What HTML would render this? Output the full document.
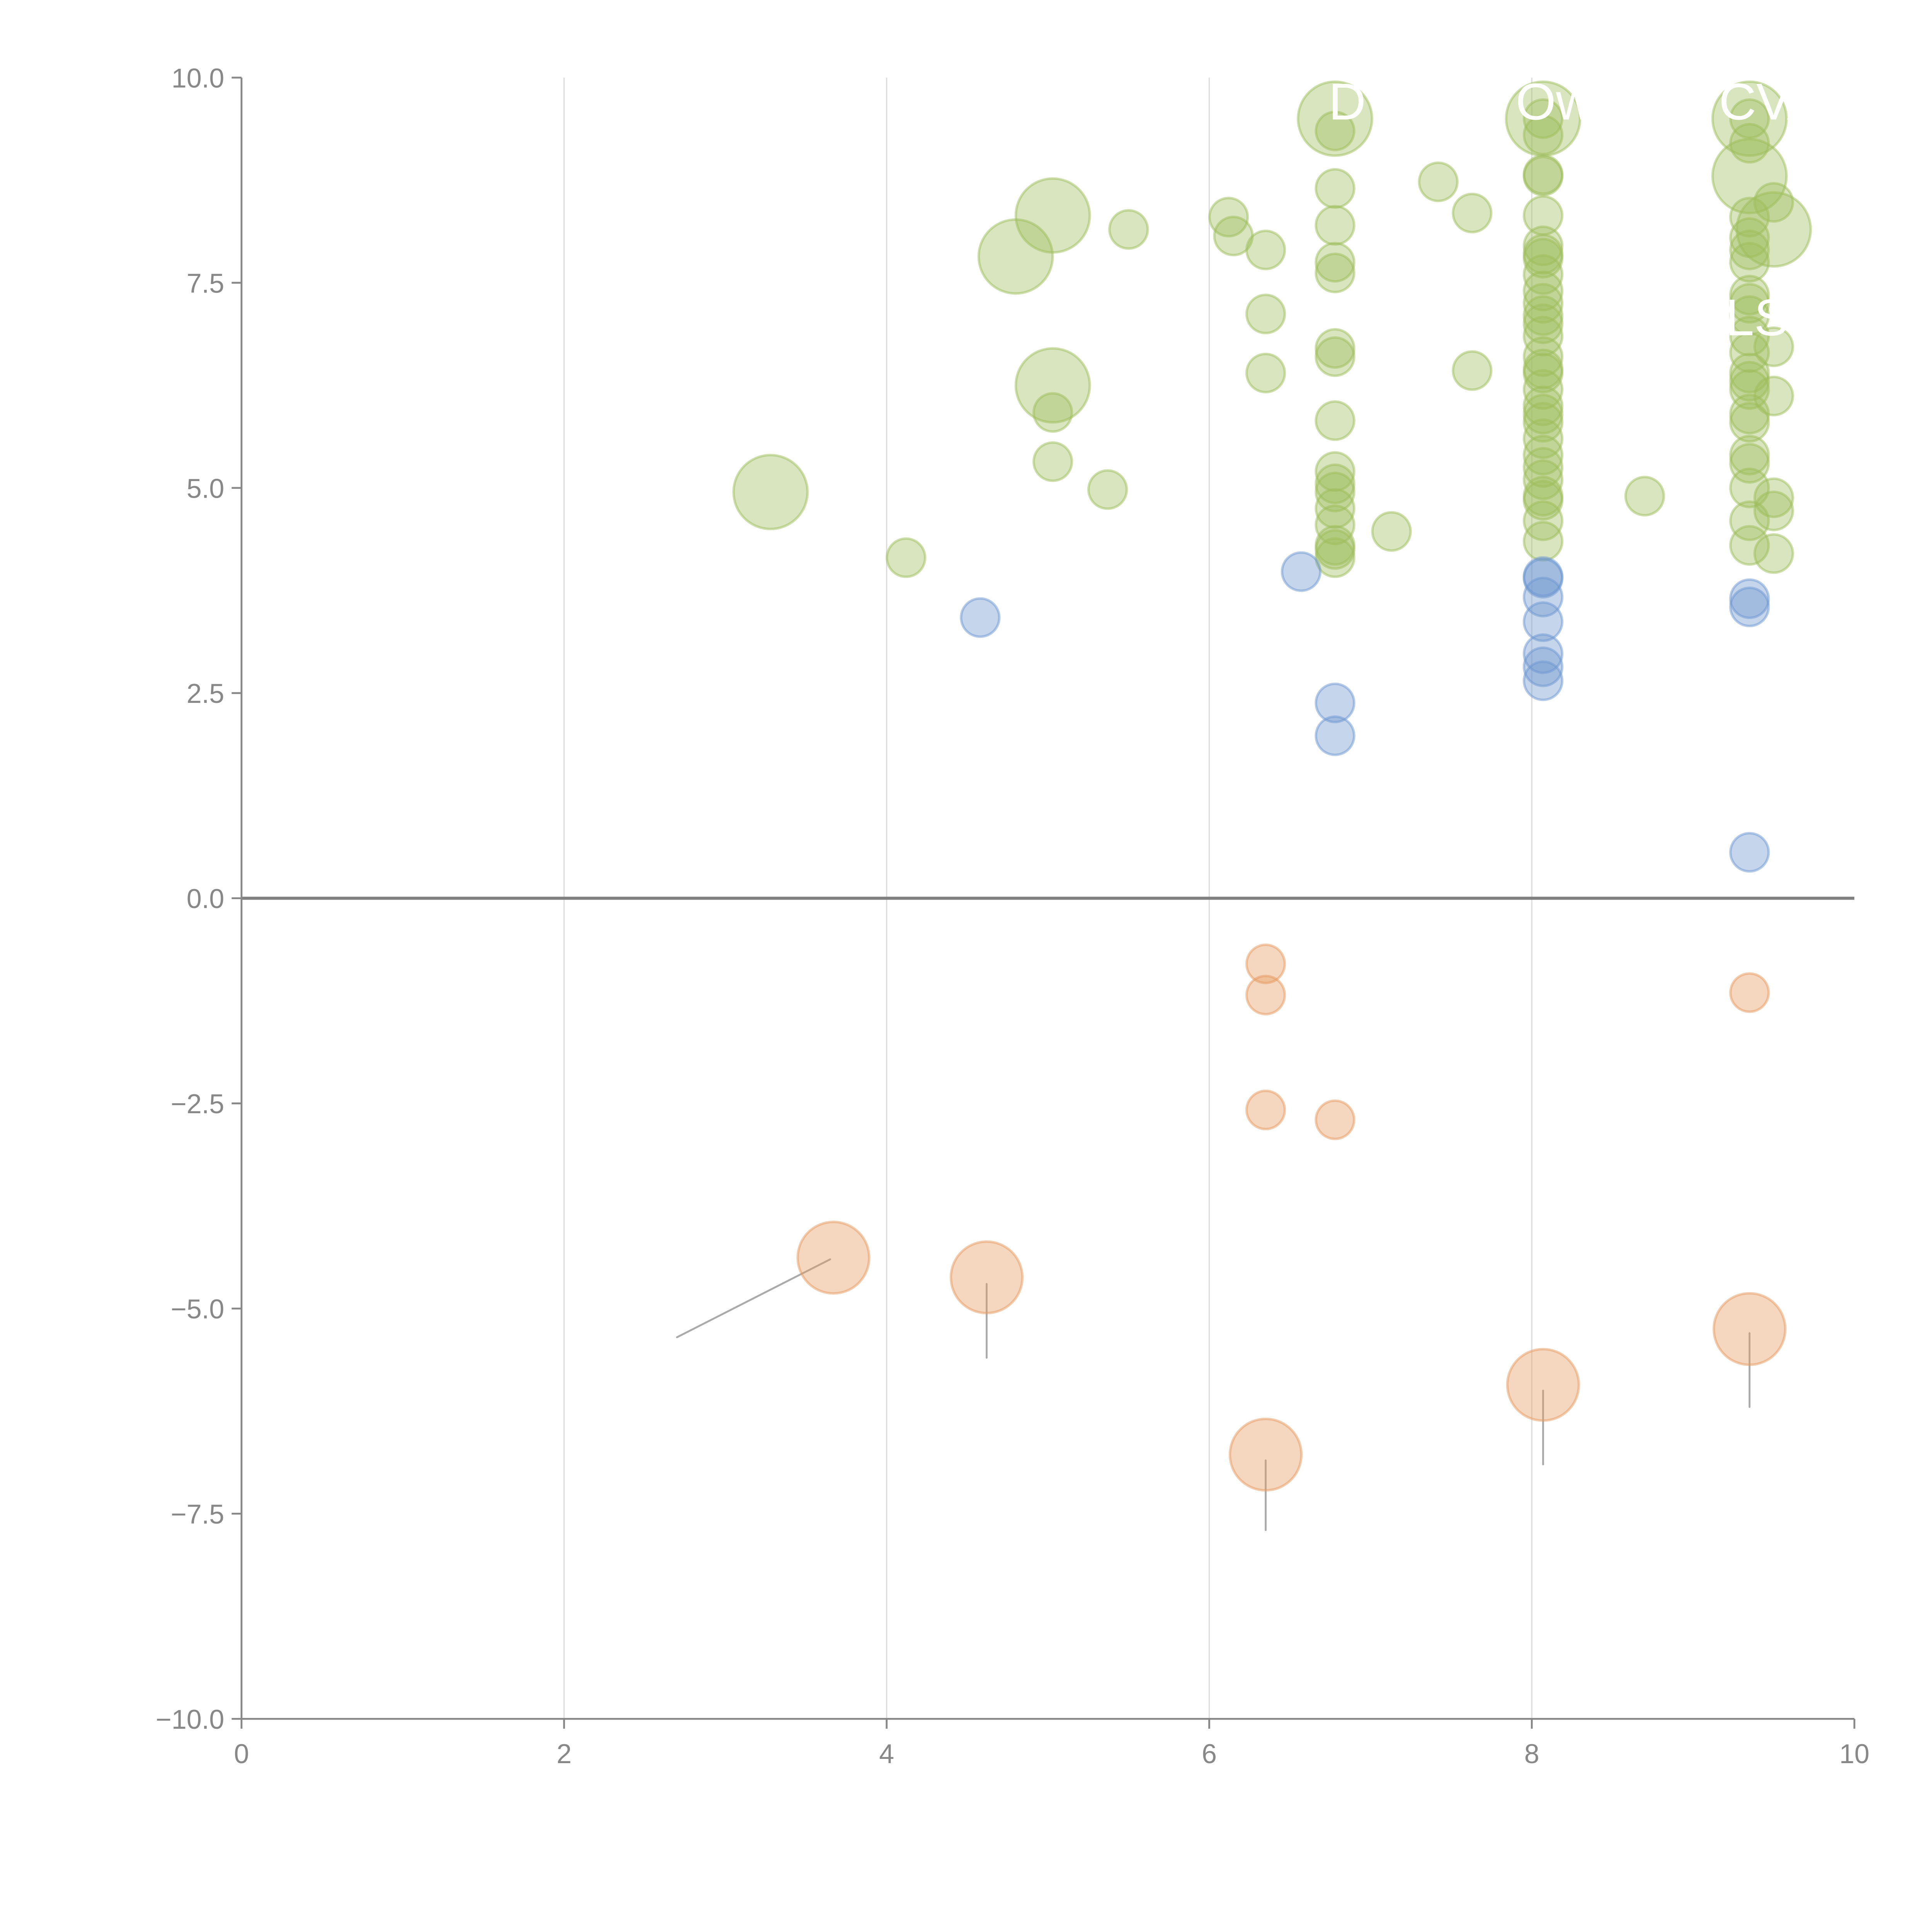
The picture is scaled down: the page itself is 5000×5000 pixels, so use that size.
<!DOCTYPE html>
<html><head><meta charset="utf-8">
<style>html,body{margin:0;padding:0;background:#fff;}svg{display:block;}</style>
</head><body>
<svg id="chart" width="5000" height="5000" viewBox="0 0 1568 1568" xmlns="http://www.w3.org/2000/svg" font-family="Liberation Sans, sans-serif">
<defs><clipPath id="plotclip"><rect x="196" y="40" width="1258" height="1360"/></clipPath></defs>
<g id="grid"></g>
<g id="leaders"></g>
<g id="marks"></g>
<g id="axes"></g>
<g id="labels" clip-path="url(#plotclip)"></g>
</svg>
<script>
const xTicks = [0, 2, 4, 6, 8, 10];
const xTickLabels = ["0", "2", "4", "6", "8", "10"];
const yTicks = [10, 7.5, 5, 2.5, 0, -2.5, -5, -7.5, -10];
const yTickLabels = ["10.0", "7.5", "5.0", "2.5", "0.0", "\u22122.5", "\u22125.0", "\u22127.5", "\u221210.0"];

const greenBigX = [3.28, 4.8, 5.03, 5.03, 6.78, 8.07, 9.35, 9.35, 9.5];
const greenBigY = [4.95, 7.82, 8.32, 6.25, 9.5, 9.5, 9.5, 8.8, 8.15];
const greenX = [4.12,5.03,5.03,5.37,5.5,6.12,6.15,6.35,6.35,6.35,
 6.78,6.78,6.78,6.78,6.78,6.78,6.78,6.78,6.78,6.78,6.78,6.78,6.78,6.78,6.78,6.78,
 7.13,7.42,7.63,7.63,8.7,
 8.07,8.07,8.07,8.07,8.07,8.07,8.07,8.07,8.07,8.07,8.07,8.07,8.07,8.07,8.07,8.07,8.07,8.07,8.07,8.07,8.07,8.07,8.07,8.07,8.07,8.07,8.07,8.07,8.07,
 9.35,9.35,9.35,9.35,9.35,9.35,9.35,9.35,9.35,9.35,9.35,9.35,9.35,9.35,9.35,9.35,9.35,9.35,9.35,9.35,9.35,
 9.5,9.5,9.5,9.5,9.5,9.5];
const greenY = [4.15,5.92,5.32,4.98,8.15,8.3,8.07,7.9,7.12,6.4,
 9.35,8.65,8.2,7.75,7.62,6.7,6.6,5.82,5.2,5.05,4.95,4.75,4.55,4.3,4.25,4.15,
 4.47,8.73,8.35,6.43,4.9,
 9.5,9.3,8.82,8.8,8.32,7.95,7.85,7.8,7.6,7.4,7.25,7.1,7.0,6.85,6.6,6.45,6.4,6.2,6.0,5.9,5.8,5.6,5.4,5.25,5.1,4.9,4.85,4.6,4.35,
 9.5,9.2,8.3,8.05,7.9,7.75,7.35,7.25,7.1,6.85,6.65,6.4,6.3,6.2,5.9,5.8,5.4,5.3,5.0,4.6,4.3,
 8.48,6.72,6.12,4.88,4.72,4.2];
const blueX = [4.58,6.57,6.78,6.78,8.07,8.07,8.07,8.07,8.07,8.07,8.07,9.35,9.35,9.35];
const blueY = [3.42,3.98,2.38,1.98,3.92,3.9,3.67,3.37,2.98,2.82,2.65,3.65,3.55,0.56];
const orangeX = [6.35,6.35,6.35,6.78,9.35];
const orangeY = [-0.8,-1.18,-2.58,-2.7,-1.15];
const orangeBigX = [3.67,4.62,6.35,8.07,9.35];
const orangeBigY = [-4.38,-4.62,-6.78,-5.93,-5.25];
const leaderX1 = [2.7,4.62,6.35,8.07,9.35];
const leaderY1 = [-5.35,-4.7,-6.85,-6.0,-5.3];
const leaderX2 = [3.65,4.62,6.35,8.07,9.35];
const leaderY2 = [-4.4,-5.6,-7.7,-6.9,-6.2];
const labelText = ["D", "Ow", "CVA", "LS"];
const labelX = [6.74, 7.9, 9.16, 9.2];
const labelY = [9.49, 9.49, 9.49, 6.86];

const X0 = 196, X1 = 1505, Y0 = 1395, Y1 = 63;
function sx(v){ return X0 + (v - 0) / 10 * (X1 - X0); }
function sy(v){ return Y0 - (v + 10) / 20 * (Y0 - Y1); }
const NS = "http://www.w3.org/2000/svg";
function mk(tag, attrs, parent){ const e = document.createElementNS(NS, tag); for (const k in attrs) e.setAttribute(k, attrs[k]); parent.appendChild(e); return e; }

const grid = document.getElementById('grid');
xTicks.forEach((t, i) => {
  if (t === 0 || t === 10) return;
  const l = mk('line', {x1: sx(t), x2: sx(t), y1: Y1, y2: Y0, stroke: '#dcdcdc', 'stroke-width': 1}, grid);
  
  
});
const zl = mk('line', {x1: X0, x2: X1, y1: sy(0), y2: sy(0), stroke: '#808080', 'stroke-width': 2.5}, grid);



const leaders = document.getElementById('leaders');
leaderX1.forEach((v, i) => {
  const l = mk('line', {x1: sx(v), y1: sy(leaderY1[i]), x2: sx(leaderX2[i]), y2: sy(leaderY2[i]), stroke: '#aaaaaa', 'stroke-width': 1.5, 'stroke-linecap': 'round'}, leaders);
  
  
});

const marks = document.getElementById('marks');
function bubbles(xs, ys, r, fill, stroke, name){
  xs.forEach((v, i) => {
    const c = mk('circle', {cx: sx(v), cy: sy(ys[i]), r: r, fill: fill, 'fill-opacity': 0.4, stroke: stroke, 'stroke-opacity': 0.5, 'stroke-width': 2}, marks);
    
    
  });
}
bubbles(greenBigX, greenBigY, 30, '#9dbd5c', '#9dbd5c', 'green-large-bubble');
bubbles(greenX, greenY, 15.5, '#9dbd5c', '#9dbd5c', 'green-bubble');
bubbles(blueX, blueY, 15.5, '#6e97d0', '#6e97d0', 'blue-bubble');
bubbles(orangeX, orangeY, 15.5, '#e59a5f', '#e59a5f', 'orange-bubble');
bubbles(orangeBigX, orangeBigY, 29, '#e59a5f', '#e59a5f', 'orange-large-bubble');

const axes = document.getElementById('axes');
const ya = mk('line', {x1: X0, x2: X0, y1: Y1, y2: Y0, stroke: '#888', 'stroke-width': 1.5}, axes);


const xa = mk('line', {x1: X0, x2: X1, y1: Y0, y2: Y0, stroke: '#888', 'stroke-width': 1.5}, axes);


yTicks.forEach((t, i) => {
  const tk = mk('line', {x1: X0 - 8, x2: X0, y1: sy(t), y2: sy(t), stroke: '#888', 'stroke-width': 1.5}, axes);
  
  
  const tx = mk('text', {x: X0 - 14, y: sy(t) + 8, 'text-anchor': 'end', 'font-size': 22, fill: '#888'}, axes);
  tx.textContent = yTickLabels[i];
  
  
});
xTicks.forEach((t, i) => {
  const tk = mk('line', {x1: sx(t), x2: sx(t), y1: Y0, y2: Y0 + 8, stroke: '#888', 'stroke-width': 1.5}, axes);
  
  
  const tx = mk('text', {x: sx(t), y: Y0 + 36, 'text-anchor': 'middle', 'font-size': 22, fill: '#888'}, axes);
  tx.textContent = xTickLabels[i];
  
  
});

const labels = document.getElementById('labels');
labelText.forEach((s, i) => {
  const t = mk('text', {x: sx(labelX[i]), y: sy(labelY[i]), 'text-anchor': 'start', 'font-size': 42, fill: '#ffffff'}, labels);
  t.textContent = s;
  
  
});
</script>
</body></html>
